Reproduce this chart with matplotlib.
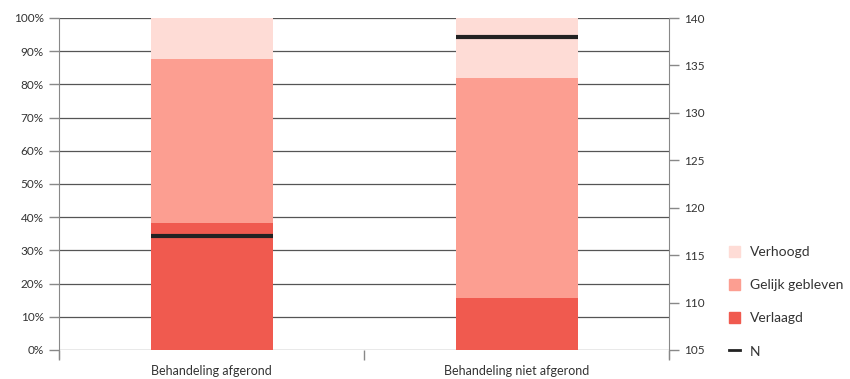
import matplotlib
matplotlib.use("Agg")
import matplotlib.pyplot as plt
from matplotlib.patches import Patch
from matplotlib.lines import Line2D
import numpy as np

plt.rcParams['font.family'] = ['Lato', 'DejaVu Sans']

categories = ["Behandeling afgerond", "Behandeling niet afgerond"]
verlaagd = [38.3, 15.7]
gelijk = [49.4, 66.3]
verhoogd = [12.3, 18.0]
n_values = [117, 138]
left_ticks = [0, 10, 20, 30, 40, 50, 60, 70, 80, 90, 100]
right_ticks = [105, 110, 115, 120, 125, 130, 135, 140]

c_verlaagd = "#f05a4f"
c_gelijk = "#fc9e91"
c_verhoogd = "#fedcd6"

fig = plt.figure(figsize=(8.5, 3.79), dpi=100)
ax = fig.add_axes([59/850, 29/379, 610/850, 332/379])
x = np.arange(len(categories))
w = 0.4
ax.bar(x, verlaagd, w, color=c_verlaagd, zorder=3)
ax.bar(x, gelijk, w, bottom=verlaagd, color=c_gelijk, zorder=3)
ax.bar(x, verhoogd, w, bottom=np.array(verlaagd) + np.array(gelijk), color=c_verhoogd, zorder=3)
ax.set_xlim(-0.5, 1.5)
ax.set_ylim(0, 100)
ax.set_yticks(left_ticks)
ax.set_yticklabels([f"{t}%" for t in left_ticks])
ax.yaxis.grid(True, color="#555555", linewidth=0.9, zorder=0)
ax.set_axisbelow(True)
ax.set_xticks([-0.5, 0.5, 1.5])
ax.set_xticklabels([])
ax.set_xticks(x, minor=True)
ax.set_xticklabels(categories, minor=True)
ax.tick_params(axis='x', which='major', length=7, color="#888888", width=1)
ax.tick_params(axis='x', which='minor', length=0, labelsize=9, colors="#333333", pad=11)
ax.tick_params(axis='y', length=7, color="#888888", width=1, labelsize=8.5, labelcolor="#333333", pad=4)
for s in ['top', 'bottom', 'right']:
    ax.spines[s].set_visible(False)
ax.spines['left'].set_color("#888888")
ax.spines['left'].set_bounds(-2.4, 100)

ax2 = ax.twinx()
ax2.set_ylim(105, 140)
ax2.set_yticks(right_ticks)
ax2.hlines(n_values, x - w/2, x + w/2, color="#222222", linewidth=3, zorder=5)
ax2.tick_params(axis='y', length=7, color="#888888", width=1, labelsize=8.5, labelcolor="#333333", pad=4)
for s in ['top', 'bottom', 'left']:
    ax2.spines[s].set_visible(False)
ax2.spines['right'].set_color("#888888")
ax2.spines['right'].set_bounds(104.2, 140)

handles = [Patch(color=c_verhoogd), Patch(color=c_gelijk), Patch(color=c_verlaagd),
           Line2D([0], [0], color="#222222", linewidth=2)]
labels = ["Verhoogd", "Gelijk gebleven", "Verlaagd", "N"]
fig.legend(handles, labels, loc="lower left", bbox_to_anchor=(716/850, 9/379),
           frameon=False, fontsize=10, handlelength=0.85, handleheight=0.85,
           labelspacing=1.5, handletextpad=0.7, labelcolor="#333333")

fig.savefig("out.png", dpi=100)
